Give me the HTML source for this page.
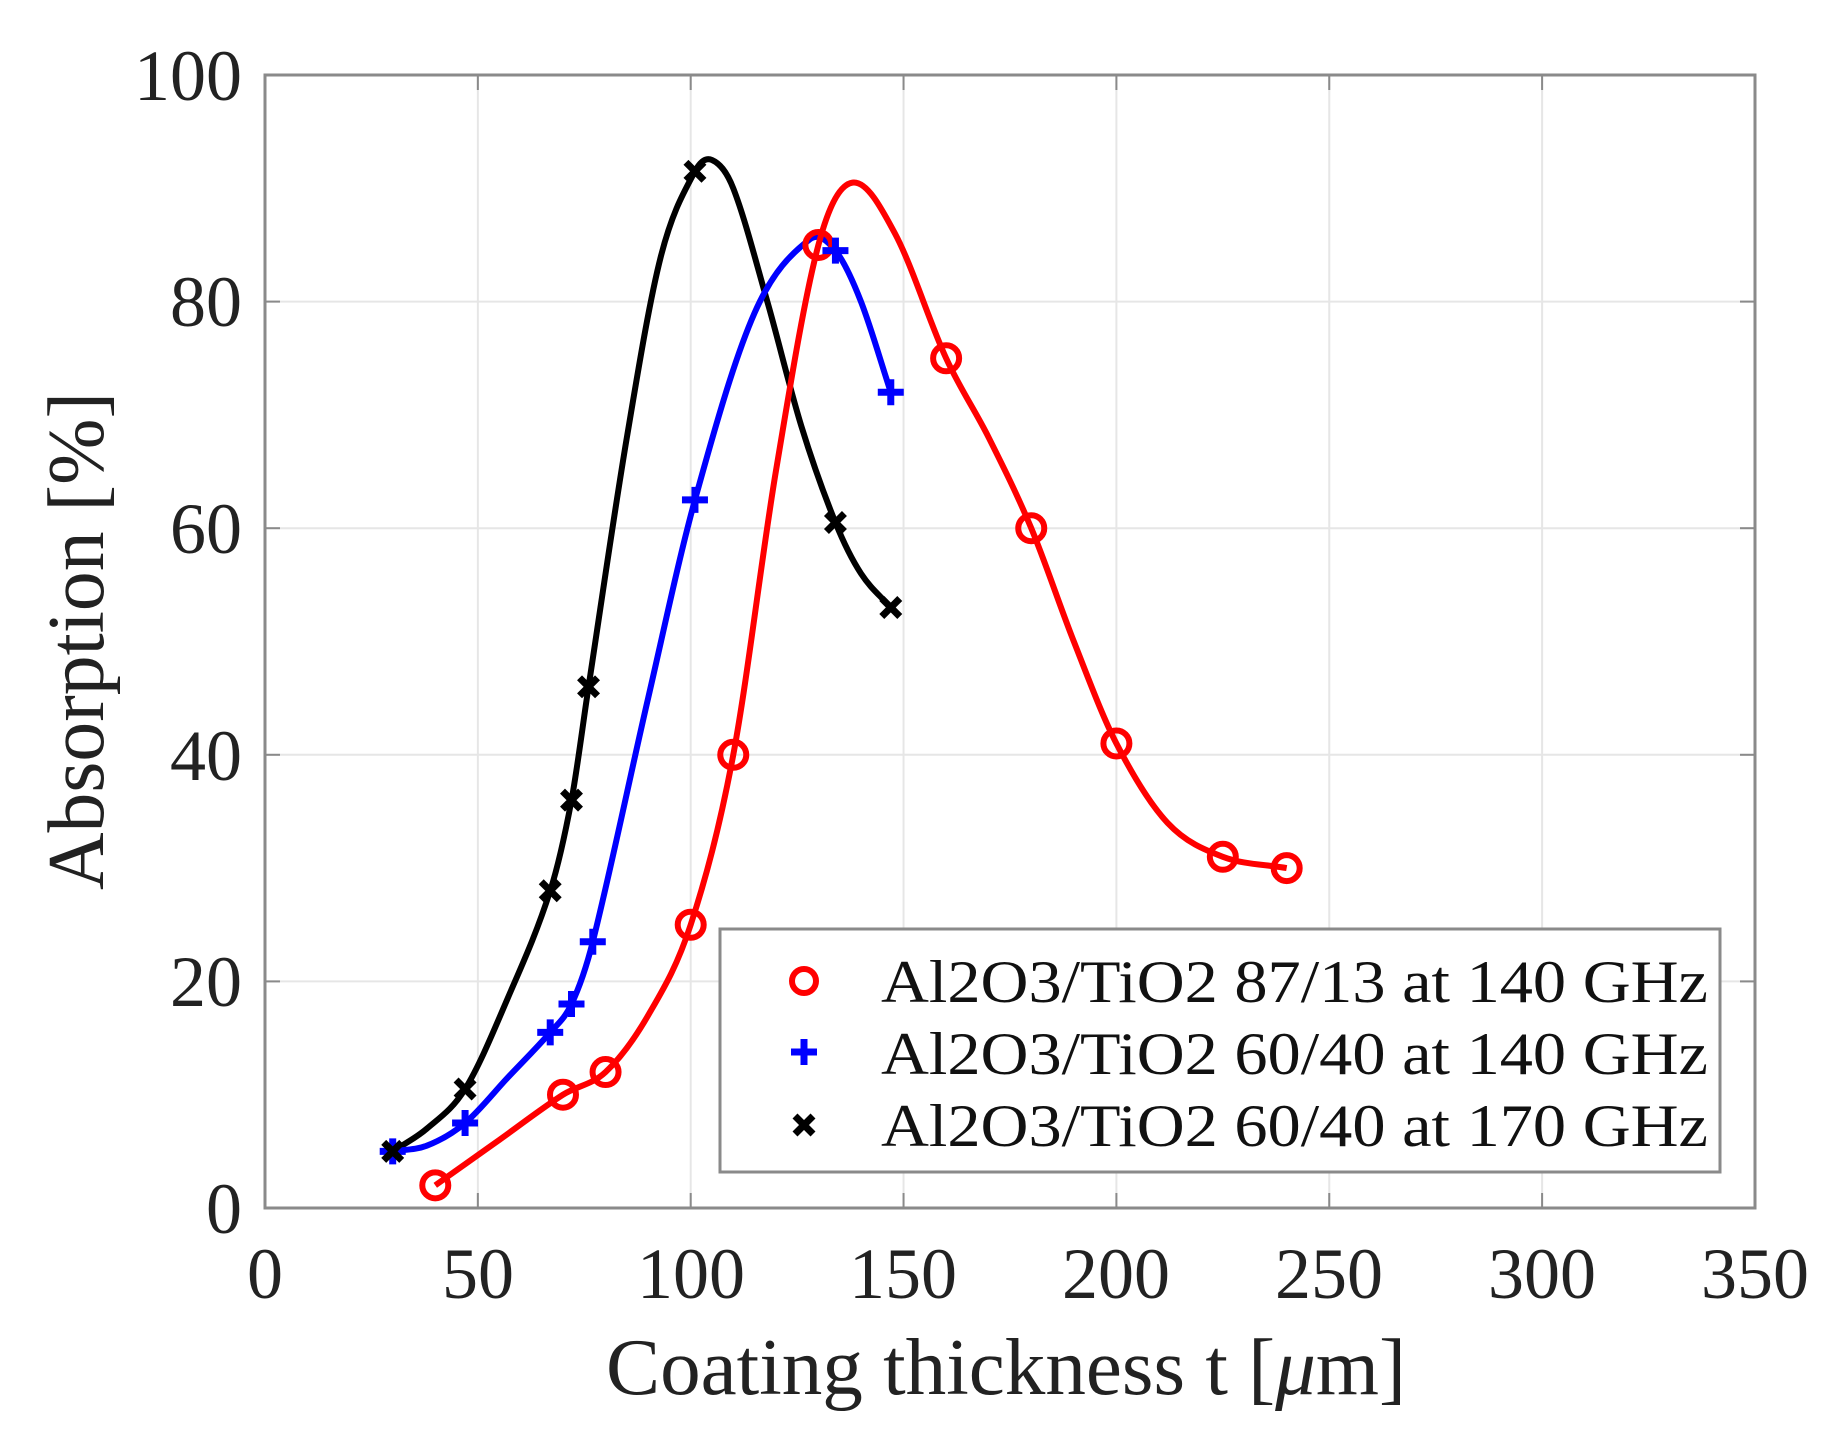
<!DOCTYPE html>
<html><head><meta charset="utf-8"><style>html,body{margin:0;padding:0;background:#fff}svg{display:block}</style></head>
<body>
<svg id="s" width="1837" height="1452" xmlns="http://www.w3.org/2000/svg" font-family="Liberation Serif, serif">
<g id="grid" stroke="#e6e6e6" stroke-width="2"></g>
<rect x="265" y="75" width="1490" height="1133" fill="none" stroke="#8a8a8a" stroke-width="3"/>
<g id="ticks" stroke="#8a8a8a" stroke-width="2"></g>
<g font-size="72" fill="#222" text-anchor="end">
<text x="242" y="100">100</text><text x="242" y="326">80</text><text x="242" y="553">60</text><text x="242" y="780">40</text><text x="242" y="1006">20</text><text x="242" y="1233">0</text>
</g>
<g font-size="72" fill="#222" text-anchor="middle">
<text x="265" y="1298">0</text><text x="478" y="1298">50</text><text x="691" y="1298">100</text><text x="903" y="1298">150</text><text x="1116" y="1298">200</text><text x="1329" y="1298">250</text><text x="1542" y="1298">300</text><text x="1755" y="1298">350</text>
</g>
<text x="1006" y="1394" font-size="80" fill="#222" text-anchor="middle" textLength="800" lengthAdjust="spacingAndGlyphs">Coating thickness t [<tspan font-style="italic">μ</tspan>m]</text>
<text transform="translate(103,641) rotate(-90)" font-size="80" fill="#222" text-anchor="middle" textLength="498" lengthAdjust="spacingAndGlyphs">Absorption [%]</text>
<g id="series"></g>
<rect x="720" y="929" width="1000" height="243" fill="#fff" stroke="#8a8a8a" stroke-width="3"/>
<g font-size="60" fill="#111">
<text x="881" y="1002" textLength="827" lengthAdjust="spacingAndGlyphs">Al2O3/TiO2 87/13 at 140 GHz</text>
<text x="881" y="1074" textLength="827" lengthAdjust="spacingAndGlyphs">Al2O3/TiO2 60/40 at 140 GHz</text>
<text x="881" y="1146" textLength="827" lengthAdjust="spacingAndGlyphs">Al2O3/TiO2 60/40 at 170 GHz</text>
</g>
<circle cx="804" cy="981" r="12" fill="none" stroke="#f00" stroke-width="6"/>
<path d="M804 1039v26M791 1052h26" stroke="#00f" stroke-width="7"/>
<path d="M795 1116l18 18M813 1116l-18 18" stroke="#000" stroke-width="7"/>
</svg>
<script>
var NS="http://www.w3.org/2000/svg";
function X(v){return 265+v*4.257} function Y(v){return 1208-v*11.33}
function el(p,t,a){var e=document.createElementNS(NS,t);for(var k in a)e.setAttribute(k,a[k]);document.getElementById(p).appendChild(e);return e}
for(var i=1;i<7;i++){el("grid","line",{x1:X(i*50),x2:X(i*50),y1:75,y2:1208});}
for(var j=1;j<5;j++){el("grid","line",{x1:265,x2:1755,y1:Y(j*20),y2:Y(j*20)});}
for(var i=1;i<7;i++){el("ticks","line",{x1:X(i*50),x2:X(i*50),y1:1208,y2:1193});el("ticks","line",{x1:X(i*50),x2:X(i*50),y1:75,y2:90});}
for(var j=1;j<5;j++){el("ticks","line",{x1:265,x2:280,y1:Y(j*20),y2:Y(j*20)});el("ticks","line",{x1:1755,x2:1740,y1:Y(j*20),y2:Y(j*20)});}
function cr(pts){var n=pts.length,m=[];
for(var i=0;i<n;i++){var a=pts[Math.max(0,i-1)],b=pts[Math.min(n-1,i+1)];m.push((b[1]-a[1])/(b[0]-a[0]));}
var d="M"+X(pts[0][0])+" "+Y(pts[0][1]);
for(var i=0;i<n-1;i++){var p=pts[i],q=pts[i+1],h=(q[0]-p[0])/3;
d+=" C"+X(p[0]+h)+" "+Y(p[1]+m[i]*h)+" "+X(q[0]-h)+" "+Y(q[1]-m[i+1]*h)+" "+X(q[0])+" "+Y(q[1]);}return d}
var red=[[40,2],[55,6],[70,10],[80,12],[90,17],[100,25],[110,40],[120,65],[130,85],[138,90.5],[148,86],[160,75],[170,68],[180,60],[190,50],[200,41],[212,34],[225,31],[240,30]];
var blue=[[30,5],[38,5.5],[47,7.5],[57,11.5],[67,15.5],[72,18],[77,23.5],[90,45],[101,62.5],[115,79],[128,85.5],[134,84.5],[140,80],[147,72]];
var black=[[30,5],[38,7],[47,10.5],[57,18.5],[67,28],[72,36],[76,46],[85,68],[93,84],[101,91.5],[105,92.5],[110,90],[118,80],[126,69],[134,60.5],[140,56],[147,53]];
el("series","path",{d:cr(black),fill:"none",stroke:"#000","stroke-width":6});
el("series","path",{d:cr(blue),fill:"none",stroke:"#00f","stroke-width":6});
el("series","path",{d:cr(red),fill:"none",stroke:"#f00","stroke-width":6});
[[40,2],[70,10],[80,12],[100,25],[110,40],[130,85],[160,75],[180,60],[200,41],[225,31],[240,30]].forEach(function(q){el("series","circle",{cx:X(q[0]),cy:Y(q[1]),r:13,fill:"none",stroke:"#f00","stroke-width":6})});
[[30,5],[47,7.5],[67,15.5],[72,18],[77,23.5],[101,62.5],[134,84.5],[147,72]].forEach(function(q){var x=X(q[0]),y=Y(q[1]);el("series","path",{d:"M"+x+" "+(y-13)+"v26M"+(x-13)+" "+y+"h26",stroke:"#00f","stroke-width":7})});
[[30,5],[47,10.5],[67,28],[72,36],[76,46],[101,91.5],[134,60.5],[147,53]].forEach(function(q){var x=X(q[0]),y=Y(q[1]);el("series","path",{d:"M"+(x-9)+" "+(y-9)+"l18 18M"+(x+9)+" "+(y-9)+"l-18 18",stroke:"#000","stroke-width":7})});
</script>
</body></html>
